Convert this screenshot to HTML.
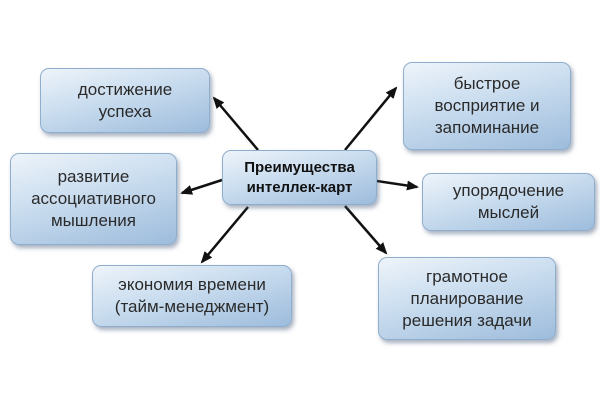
<!DOCTYPE html>
<html><head><meta charset="utf-8"><style>
body{margin:0;width:600px;height:400px;background:#fff;position:relative;overflow:hidden;font-family:"Liberation Sans","DejaVu Sans",sans-serif}
.b{position:absolute;box-sizing:border-box;border:1px solid #8fadcc;border-radius:9px;background:linear-gradient(165deg,#eef4fa 0%,#cddff0 40%,#9dbcdc 100%);box-shadow:2px 3px 4px rgba(80,100,130,.5);display:flex;align-items:center;justify-content:center;text-align:center;color:#2a2a2a;font-size:17px;line-height:22px}
.c{font-weight:bold;font-size:15px;line-height:20px;color:#111}
svg{position:absolute;left:0;top:0}
</style></head><body>
<svg width="600" height="400"><defs><marker id="a" markerWidth="12" markerHeight="10" refX="10" refY="5" orient="auto" markerUnits="userSpaceOnUse"><path d="M0,0 L12,5 L0,10 z" fill="#111"/></marker></defs>
<g stroke="#111" stroke-width="2.5" marker-end="url(#a)">
<line x1="258" y1="150" x2="214" y2="98"/>
<line x1="222" y1="180" x2="182" y2="193"/>
<line x1="248" y1="207" x2="202" y2="262"/>
<line x1="345" y1="150" x2="396" y2="88"/>
<line x1="377" y1="181" x2="417" y2="187"/>
<line x1="345" y1="206" x2="386" y2="253"/>
</g></svg>
<div class="b" style="left:40px;top:68px;width:170px;height:65px">достижение<br>успеха</div>
<div class="b" style="left:10px;top:153px;width:167px;height:92px">развитие<br>ассоциативного<br>мышления</div>
<div class="b c" style="left:222px;top:150px;width:155px;height:55px">Преимущества<br>интеллек-карт</div>
<div class="b" style="left:92px;top:265px;width:200px;height:62px">экономия времени<br>(тайм-менеджмент)</div>
<div class="b" style="left:403px;top:62px;width:168px;height:88px">быстрое<br>восприятие и<br>запоминание</div>
<div class="b" style="left:422px;top:173px;width:173px;height:58px">упорядочение<br>мыслей</div>
<div class="b" style="left:378px;top:257px;width:178px;height:83px">грамотное<br>планирование<br>решения задачи</div>
</body></html>
